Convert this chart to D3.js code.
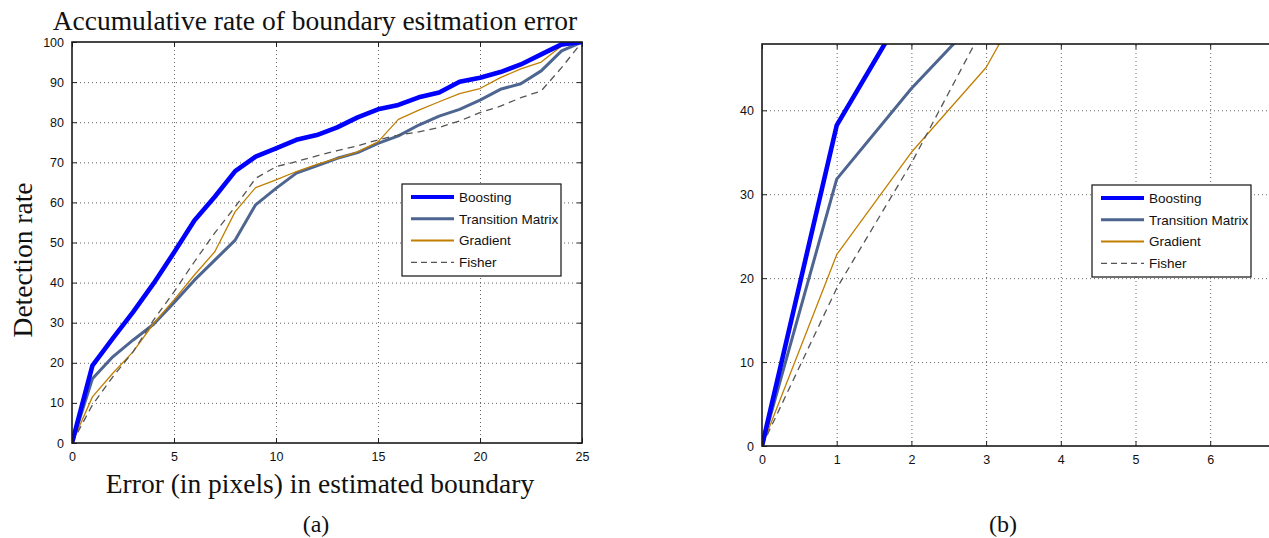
<!DOCTYPE html>
<html>
<head>
<meta charset="utf-8">
<title>Accumulative rate of boundary estimation error</title>
<style>
  body { margin: 0; background: #fff; }
  .tick text { font: 12.5px "Liberation Sans", Arial, sans-serif; fill: #111; }
  .grid line { stroke: #555; stroke-dasharray: 1,3; stroke-width: 0.9; }
  .grid .domain { display: none; }
  .frame .domain { display: none; }
  .frame line { stroke: #222; stroke-width: 1; }
  .serif { font-family: "Liberation Serif", "Times New Roman", serif; fill: #111; }
  .legend text { font: 13.5px "Liberation Sans", Arial, sans-serif; fill: #111; }
</style>
<script src="https://d3js.org/d3.v7.min.js"></script>
</head>
<body>
<div id="chart"></div>
<script>
// ---- data ----
var seriesNames = ["Boosting", "Transition Matrix", "Gradient", "Fisher"];

// panel (a): error in pixels 0..25
var errorA = [0, 1, 2, 3, 4, 5, 6, 7, 8, 9, 10, 11, 12, 13, 14, 15, 16, 17, 18, 19, 20, 21, 22, 23, 24, 25];
var boostingA   = [0, 19.3, 26.1, 32.7, 39.8, 47.5, 55.5, 61.4, 67.8, 71.4, 73.5, 75.6, 76.8, 78.7, 81.2, 83.2, 84.3, 86.2, 87.4, 90.1, 91.1, 92.5, 94.4, 96.9, 99.4, 100];
var transitionA = [0, 16.0, 21.5, 25.7, 29.6, 35.0, 40.6, 45.6, 50.6, 59.4, 63.5, 67.3, 69.1, 71.0, 72.4, 74.7, 76.6, 79.3, 81.5, 83.2, 85.5, 88.2, 89.6, 92.8, 97.8, 100];
var gradientA   = [0, 11.5, 17.4, 22.8, 29.8, 35.7, 41.9, 47.7, 57.7, 63.7, 65.6, 67.7, 69.5, 71.0, 72.6, 75.1, 80.7, 83.0, 85.1, 87.1, 88.4, 91.1, 93.3, 95.0, 99.0, 100];
var fisherA     = [0, 9.5, 16.5, 22.8, 30.7, 37.7, 45.2, 52.4, 58.9, 66.0, 68.9, 70.2, 71.6, 72.9, 74.1, 75.6, 76.8, 77.6, 78.7, 80.3, 82.4, 84.0, 86.1, 87.8, 93.6, 100];

// panel (b): zoom on small errors
var errorB = [0, 1, 2, 3, 4];
var boostingB   = [0, 38.2, 53.3];
var transitionB = [0, 31.8, 42.6, 52.0];
var gradientB   = [0, 22.8, 35.0, 45.1, 61.0];
var fisherB     = [0, 18.8, 33.7, 50.5];

var ticksAx = [0, 5, 10, 15, 20, 25];
var ticksAy = [0, 10, 20, 30, 40, 50, 60, 70, 80, 90, 100];
var ticksBx = [0, 1, 2, 3, 4, 5, 6];
var ticksBy = [0, 10, 20, 30, 40];

// ---- styles per series ----
var styles = [
  {color: "#0000ff", width: 4.6, legendWidth: 4, dash: null},
  {color: "#4d6590", width: 3,   legendWidth: 3, dash: null},
  {color: "#c07f00", width: 1.3, legendWidth: 2, dash: null},
  {color: "#555555", width: 1.3, legendWidth: 1.3, dash: "7,5"}
];

var W = 1269, H = 538;
var svg = d3.select("#chart").append("svg")
  .attr("width", W)
  .attr("height", H);

function drawPanel(opt) {
  var g = svg.append("g").attr("transform", "translate(" + opt.left + "," + opt.top + ")");
  var w = opt.width, h = opt.height;

  var x = d3.scaleLinear().domain(opt.xDomain).range([0, w]);
  var y = d3.scaleLinear().domain(opt.yDomain).range([h, 0]);

  var clipId = "clip" + opt.id;
  g.append("clipPath").attr("id", clipId)
    .append("rect").attr("width", w).attr("height", h);

  // dotted grid
  g.append("g").attr("class", "grid")
    .attr("transform", "translate(0," + h + ")")
    .call(d3.axisBottom(x).tickValues(opt.xTicks.filter(function(t) { return t > opt.xDomain[0] && t < opt.xDomain[1]; }))
      .tickSize(-h).tickFormat(""));
  g.append("g").attr("class", "grid")
    .call(d3.axisLeft(y).tickValues(opt.yTicks.filter(function(t) { return t > opt.yDomain[0] && t < opt.yDomain[1]; }))
      .tickSize(-w).tickFormat(""));

  // series
  var line = d3.line()
    .x(function(d) { return x(d[0]); })
    .y(function(d) { return y(d[1]); });

  var plot = g.append("g").attr("clip-path", "url(#" + clipId + ")");
  opt.series.forEach(function(vals, i) {
    var pts = vals.map(function(v, k) { return [opt.xs[k], v]; });
    var s = styles[i];
    plot.append("path")
      .datum(pts)
      .attr("fill", "none")
      .attr("stroke", s.color)
      .attr("stroke-width", s.width)
      .attr("stroke-linejoin", "round")
      .attr("stroke-dasharray", s.dash)
      .attr("d", line);
  });
  // thick blue line sits on top
  plot.selectAll("path").filter(function(d, i) { return i === 0; }).raise();

  // axes with inward ticks on all sides
  g.append("g").attr("class", "frame")
    .attr("transform", "translate(0," + h + ")")
    .call(d3.axisBottom(x).tickValues(opt.xTicks).tickSize(-5).tickPadding(9));
  g.append("g").attr("class", "frame")
    .call(d3.axisTop(x).tickValues(opt.xTicks).tickSize(-5).tickFormat(""));
  g.append("g").attr("class", "frame")
    .call(d3.axisLeft(y).tickValues(opt.yTicks).tickSize(-5).tickPadding(8));
  g.append("g").attr("class", "frame")
    .attr("transform", "translate(" + w + ",0)")
    .call(d3.axisRight(y).tickValues(opt.yTicks).tickSize(-5).tickFormat(""));

  g.append("rect")
    .attr("width", w).attr("height", h)
    .attr("fill", "none").attr("stroke", "#1a1a1a").attr("stroke-width", 1.6);

  // legend
  var lg = g.append("g").attr("class", "legend")
    .attr("transform", "translate(" + opt.legend[0] + "," + opt.legend[1] + ")");
  lg.append("rect")
    .attr("width", 159).attr("height", 92)
    .attr("fill", "#fff").attr("stroke", "#111").attr("stroke-width", 1.2);
  seriesNames.forEach(function(name, i) {
    var s = styles[i];
    var yy = 13 + i * 21.8;
    lg.append("line")
      .attr("x1", 9).attr("x2", 52).attr("y1", yy).attr("y2", yy)
      .attr("stroke", s.color).attr("stroke-width", s.legendWidth)
      .attr("stroke-dasharray", s.dash ? "6,4" : null);
    lg.append("text").attr("x", 57).attr("y", yy).attr("dy", "0.36em").text(name);
  });

  return g;
}

// panel (a)
drawPanel({
  id: "a", left: 72, top: 42, width: 510, height: 401,
  xDomain: [0, 25], yDomain: [0, 100],
  xTicks: ticksAx, yTicks: ticksAy,
  xs: errorA, series: [boostingA, transitionA, gradientA, fisherA],
  legend: [330, 142]
});

// panel (b) - continues past the right edge of the picture
drawPanel({
  id: "b", left: 762, top: 44, width: 74.7 * 8, height: 402,
  xDomain: [0, 8], yDomain: [0, 47.9],
  xTicks: ticksBx, yTicks: ticksBy,
  xs: errorB, series: [boostingB, transitionB, gradientB, fisherB],
  legend: [330, 141]
});

// titles and labels
svg.append("text").attr("class", "serif")
  .attr("x", 315).attr("y", 30)
  .attr("text-anchor", "middle").style("font-size", "27.5px")
  .text("Accumulative rate of boundary esitmation error");

svg.append("text").attr("class", "serif")
  .attr("x", 320).attr("y", 493)
  .attr("text-anchor", "middle").style("font-size", "27.5px")
  .text("Error (in pixels) in estimated boundary");

svg.append("text").attr("class", "serif")
  .attr("transform", "translate(32,260) rotate(-90)")
  .attr("text-anchor", "middle").style("font-size", "27.5px")
  .text("Detection rate");

svg.append("text").attr("class", "serif")
  .attr("x", 316).attr("y", 532)
  .attr("text-anchor", "middle").style("font-size", "24px")
  .text("(a)");

svg.append("text").attr("class", "serif")
  .attr("x", 1003).attr("y", 532)
  .attr("text-anchor", "middle").style("font-size", "24px")
  .text("(b)");
</script>
</body>
</html>
